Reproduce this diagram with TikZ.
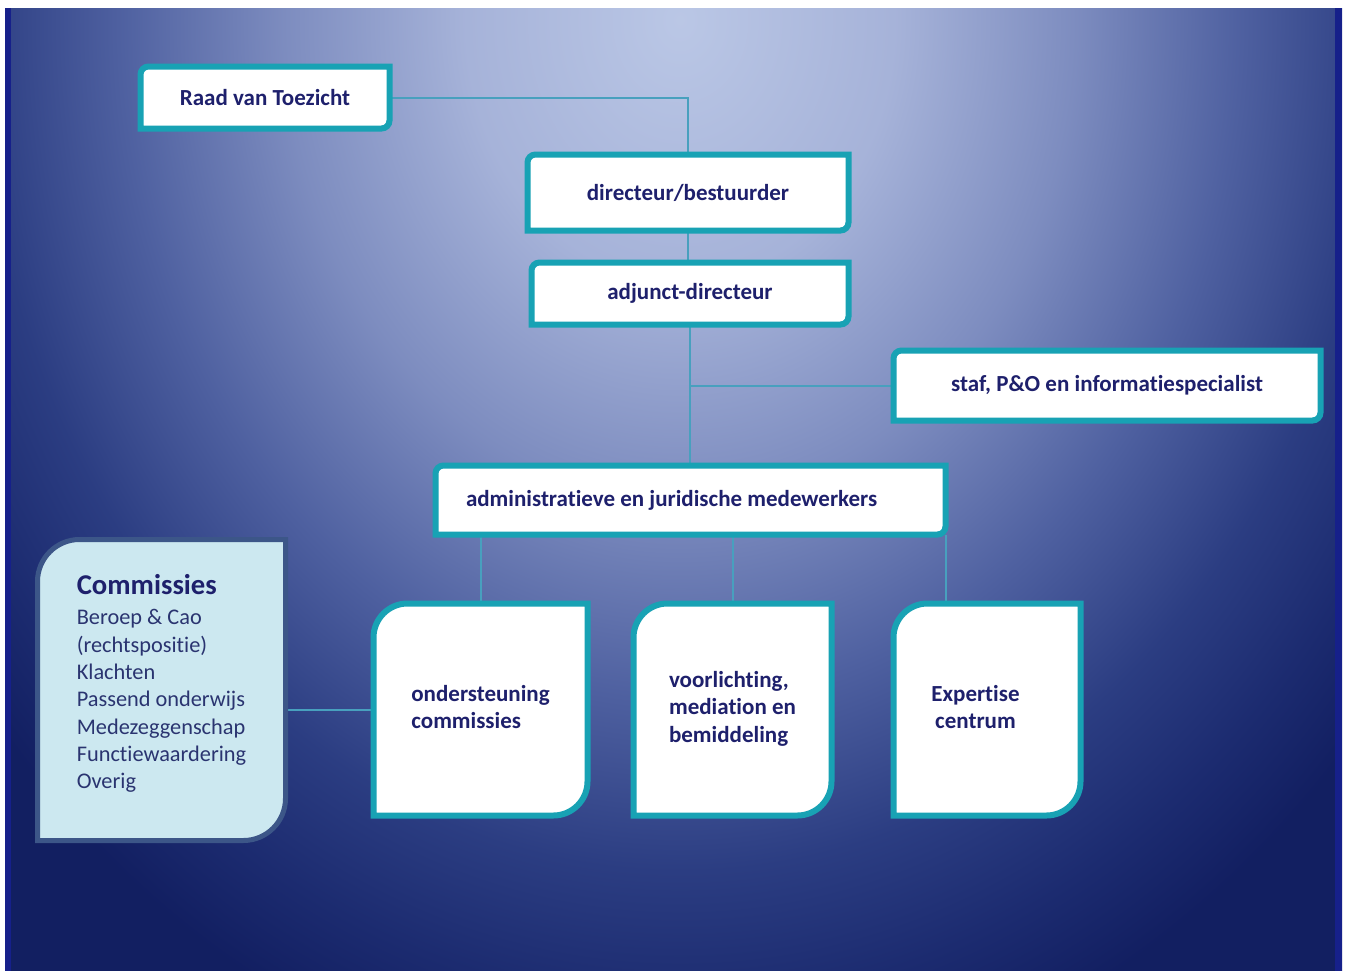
\documentclass[tikz,border=0pt]{standalone}
\usepackage{fontspec}
\setmainfont[Ligatures=NoCommon]{Carlito}
\usetikzlibrary{calc}

\definecolor{boxteal}{RGB}{24,162,180}
\definecolor{linkteal}{RGB}{72,160,190}
\definecolor{textnavy}{RGB}{30,32,108}
\definecolor{itemnavy}{RGB}{42,52,112}
\definecolor{commfill}{RGB}{204,232,240}
\definecolor{commedge}{RGB}{60,86,136}
\definecolor{edgeband}{RGB}{22,32,138}

\pgfdeclareradialshading{bgglow}{\pgfpoint{0bp}{0bp}}{rgb(0bp)=(0.73,0.78,0.90); rgb(6bp)=(0.65,0.70,0.85); rgb(11bp)=(0.49,0.55,0.75); rgb(15.5bp)=(0.31,0.38,0.63); rgb(19.5bp)=(0.17,0.24,0.51); rgb(22.5bp)=(0.11,0.17,0.44); rgb(25bp)=(0.07,0.12,0.38); rgb(50bp)=(0.07,0.12,0.38)}

\pgfdeclarelayer{backdrop}
\pgfdeclarelayer{boxes}
\pgfsetlayers{backdrop,boxes,main}

% box outline: top left and bottom right corners rounded
\newcommand{\roundbox}[3][boxline]{%
  \path[#1] ($(#2.north west)+(0,#3)$)
    .. controls ($(#2.north west)+(0,0.45*#3)$) and ($(#2.north west)+(0.45*#3,0)$) .. ($(#2.north west)+(#3,0)$)
    -- (#2.north east) -- ($(#2.south east)+(0,-#3)$)
    .. controls ($(#2.south east)+(0,-0.45*#3)$) and ($(#2.south east)+(-0.45*#3,0)$) .. ($(#2.south east)+(-#3,0)$)
    -- (#2.south west) -- cycle;}

\tikzset{every picture/.style={line width=0.75pt}}

\begin{document}
\begin{tikzpicture}[x=0.75pt,y=0.75pt,yscale=-1,xscale=1,
  link/.style={draw=linkteal, line width=1.5pt},
  boxline/.style={draw=boxteal, line width=4.5pt, fill=white},
  commline/.style={draw=commedge, line width=3.75pt, fill=commfill},
  boxtext/.style={text=textnavy, font=\fontsize{17.25}{20.5}\selectfont\bfseries, inner sep=0pt},
  lowtext/.style={boxtext, minimum height=158.25pt}]
\useasboundingbox (0,0) rectangle (1347,971);

% Text Node
\node[boxtext, minimum width=186pt, minimum height=45.75pt] (raad) at (265,97.5) {Raad van Toezicht};
% Text Node
\node[boxtext, minimum width=240pt, minimum height=56.25pt] (dir) at (688,192.5) {directeur/bestuurder};
% Text Node
\node[boxtext, minimum width=237pt, minimum height=45.75pt] (adj) at (690,293.5) {adjunct-directeur};
% Text Node
\node[boxtext, minimum width=319.5pt, minimum height=51.75pt] (staf) at (1107,385.5) {staf, P\&O en informatiespecialist};
% Text Node
\node[boxtext, minimum width=381.75pt, minimum height=51pt] (adm) at (690.5,500) {\makebox[336.75pt][l]{administratieve en juridische medewerkers}};
% Text Node
\node[lowtext, minimum width=159.75pt] (ond) at (480.5,709.5) {\begin{tabular}{@{}l@{}}ondersteuning\\commissies\end{tabular}};
% Text Node
\node[lowtext, minimum width=147.75pt] (voor) at (732.5,709.5) {\begin{tabular}{@{}l@{}}voorlichting,\\mediation en\\bemiddeling\end{tabular}};
% Text Node
\node[lowtext, minimum width=139.5pt] (exp) at (987,709.5) {\begin{tabular}{@{}c@{}}Expertise\\centrum\end{tabular}\hspace*{17.25pt}};
% Text Node
\node[text=itemnavy, font=\fontsize{16.75}{20.5}\selectfont, inner sep=0pt, minimum width=185.25pt, minimum height=225pt] (comm) at (161.5,690)
  {\begin{tabular}{@{}l@{}}
   {\fontsize{21.5}{24}\selectfont\bfseries\color{textnavy}Commissies}\\[2pt]
   Beroep \& Cao\\(rechtspositie)\\Klachten\\Passend onderwijs\\Medezeggenschap\\Functiewaardering\\Overig\\[6pt]
   \end{tabular}};

\begin{pgfonlayer}{backdrop}
%Shape: Background
\fill[white] (0,0) rectangle (1347,971);
\begin{scope}
\clip (5,8) rectangle (1342,971);
\shade[shading=bgglow] (-220,-1070) rectangle (1580,1110);
\end{scope}
\fill[edgeband] (5,8) rectangle (11,971);
\fill[edgeband] (1335,8) rectangle (1342,971);

%Straight Lines
\draw[link] (raad.east) -| (dir.north);
\draw[link] (dir.south) -- (dir.south |- adj.north);
\draw[link] (adj.south) -- (adj.south |- adm.north);
\draw[link] (staf.west) -- (staf.west -| adj.south);
\draw[link] (ond.north) -- (ond.north |- adm.south);
\draw[link] (voor.north) -- (voor.north |- adm.south);
\draw[link] (adm.south east) -- (adm.south east |- exp.north);
\draw[link] (ond.west) -- (ond.west -| comm.east);
\end{pgfonlayer}

\begin{pgfonlayer}{boxes}
%Shape: Boxes
\roundbox{raad}{8}
\roundbox{dir}{8}
\roundbox{adj}{8}
\roundbox{staf}{8}
\roundbox{adm}{8}
\roundbox{ond}{34}
\roundbox{voor}{34}
\roundbox{exp}{34}
\roundbox[commline]{comm}{42}
\end{pgfonlayer}

\end{tikzpicture}
\end{document}
